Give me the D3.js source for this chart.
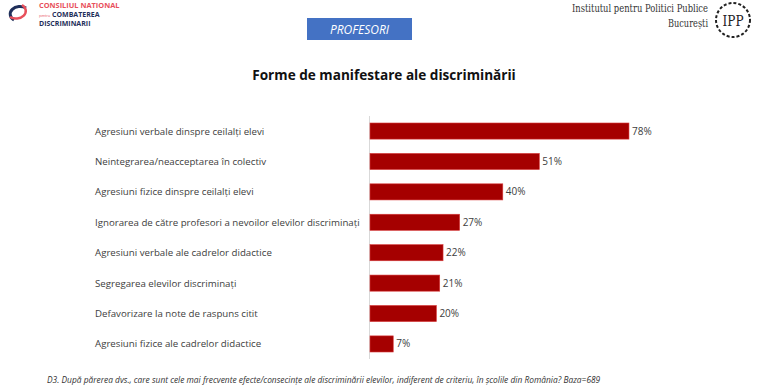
<!DOCTYPE html>
<html><head><meta charset="utf-8">
<script src="https://cdn.jsdelivr.net/npm/d3@7"></script>
<style>body{margin:0;background:#fff;}svg{display:block;}</style>
</head><body>
<script>
const categories = [
  "Agresiuni verbale dinspre ceilalți elevi",
  "Neintegrarea/neacceptarea în colectiv",
  "Agresiuni fizice dinspre ceilalți elevi",
  "Ignorarea de către profesori a nevoilor elevilor discriminați",
  "Agresiuni verbale ale cadrelor didactice",
  "Segregarea elevilor discriminați",
  "Defavorizare la note de raspuns citit",
  "Agresiuni fizice ale cadrelor didactice"
];
const values = [78, 51, 40, 27, 22, 21, 20, 7];
const title = "Forme de manifestare ale discriminării";
const badge = "PROFESORI";
const footnote = "D3. După părerea dvs., care sunt cele mai frecvente efecte/consecințe ale discriminării elevilor, indiferent de criteriu, în școlile din România? Baza=689";

const W = 768, H = 390;
const svg = d3.select("body").append("svg").attr("width", W).attr("height", H);
const font = "'Open Sans', 'Liberation Sans', sans-serif";

// left logo
const lg = svg.append("g");
lg.append("path").attr("d","M26,8 A9,7 0 1 0 14,20").attr("fill","none").attr("stroke","#1f2f5a").attr("stroke-width",3);
lg.append("path").attr("d","M10,17 A9,7 0 1 0 22,5").attr("fill","none").attr("stroke","#e8505b").attr("stroke-width",2.5);
lg.append("text").attr("x",39).attr("y",7.5).attr("font-family",font).attr("font-size",7.4).attr("font-weight","bold").attr("fill","#e8505b").text("CONSILIUL NATIONAL");
lg.append("text").attr("x",39).attr("y",16.5).attr("font-family",font).attr("font-size",3.5).attr("fill","#e8505b").text("pentru");
lg.append("text").attr("x",52).attr("y",17).attr("font-family",font).attr("font-size",7).attr("font-weight","bold").attr("fill","#1f2f5a").text("COMBATEREA");
lg.append("text").attr("x",39).attr("y",25.5).attr("font-family",font).attr("font-size",7).attr("font-weight","bold").attr("fill","#1f2f5a").text("DISCRIMINARII");

// right logo
const rg = svg.append("g");
rg.append("text").attr("x",708).attr("y",12).attr("text-anchor","end").attr("font-family","'DejaVu Serif', serif").attr("font-size",10.5).attr("fill","#333").attr("textLength",136).attr("lengthAdjust","spacingAndGlyphs").text("Institutul pentru Politici Publice");
rg.append("text").attr("x",708).attr("y",27).attr("text-anchor","end").attr("font-family","'DejaVu Serif', serif").attr("font-size",10.5).attr("fill","#333").attr("textLength",40).attr("lengthAdjust","spacingAndGlyphs").text("București");
rg.append("circle").attr("cx",733).attr("cy",20).attr("r",17).attr("fill","none").attr("stroke","#222").attr("stroke-width",2).attr("stroke-dasharray","3,2");
rg.append("text").attr("x",733).attr("y",26).attr("text-anchor","middle").attr("font-family","'DejaVu Serif', serif").attr("font-size",15).attr("fill","#222").attr("textLength",21).attr("lengthAdjust","spacingAndGlyphs").text("IPP");

// badge
svg.append("rect").attr("x",307).attr("y",18).attr("width",105).attr("height",22).attr("fill","#4472c4");
svg.append("text").attr("x",359.5).attr("y",34).attr("text-anchor","middle").attr("font-family",font).attr("font-size",12).attr("font-style","italic").attr("fill","#fff").text(badge);

// title
svg.append("text").attr("x",384).attr("y",80).attr("text-anchor","middle").attr("font-family",font).attr("font-size",13.6).attr("font-weight","bold").attr("fill","#111").text(title);

// chart
const x0 = 370;
const x = d3.scaleLinear().domain([0, 100]).range([x0, x0 + 332]);
const y = d3.scaleBand().domain(categories).range([116, 359]).paddingInner(0.47).paddingOuter(0.23);

svg.append("line").attr("x1",369.5).attr("x2",369.5).attr("y1",116).attr("y2",359).attr("stroke","#d9d9d9").attr("stroke-width",1);

svg.append("g").selectAll("rect").data(values).join("rect")
  .attr("x", x(0)).attr("y",(d,i)=>y(categories[i]))
  .attr("width", d=>x(d)-x(0)).attr("height", y.bandwidth())
  .attr("fill","#a50000").attr("stroke","#d83a3a").attr("stroke-width",0.6);

svg.append("g").selectAll("text").data(values).join("text")
  .attr("x", d=>x(d)+3).attr("y",(d,i)=>y(categories[i])+y.bandwidth()/2+3.5)
  .attr("font-family",font).attr("font-size",10).attr("fill","#404040")
  .text(d=>d+"%");

svg.append("g").selectAll("text").data(categories).join("text")
  .attr("x",95).attr("y",d=>y(d)+y.bandwidth()/2+3.5)
  .attr("font-family",font).attr("font-size",9.7).attr("fill","#404040")
  .text(d=>d);

svg.append("text").attr("x",47).attr("y",383).attr("font-family",font).attr("font-size",8.4).attr("font-style","italic").attr("fill","#333").text(footnote);
</script>
</body></html>
